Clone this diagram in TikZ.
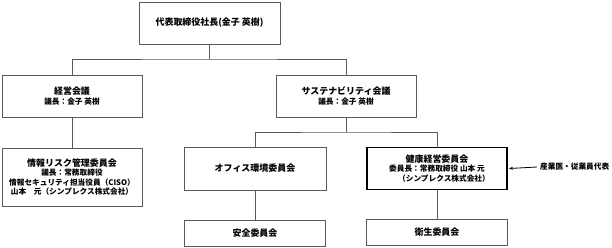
\documentclass[tikz,border=0pt]{standalone}
\usepackage{fontspec}
\setmainfont{Noto Sans CJK JP}
\usepackage{tikz}
\usetikzlibrary{arrows.meta, positioning, calc}
\definecolor{linegray}{HTML}{595959}
\tikzset{
    box/.style={rectangle, draw=linegray, line width=0.8bp, fill=white, inner sep=0pt, outer sep=0pt, align=center, font=\fontsize{7.7}{9.5}\selectfont\bfseries},
    boldbox/.style={box, draw=black, line width=1.6bp},
    link/.style={draw=linegray, line width=0.8bp},
    arrow/.style={-{Stealth[length=4bp, width=3bp]}, line width=0.8bp, draw=black}
}
\newcommand{\ttl}[1]{{\fontsize{9}{10.5}\selectfont #1}}

\begin{document}
\begin{tikzpicture}[x=1bp, y=-1bp, node distance=30bp and 41bp]
        \useasboundingbox (0,0) rectangle (612,247);
        \node[box, minimum width=141bp, minimum height=42bp] (pres) at (209.5,23) {\ttl{代表取締役社長(金子 英樹)}};
        \node[box, minimum width=140bp, minimum height=42bp] (keiei) at (72,96) {\ttl{経営会議}\\議長：金子 英樹};
        \node[box, minimum width=140bp, minimum height=42bp] (sustain) at (346,96) {\ttl{サステナビリティ会議}\\議長：金子 英樹};

        \node[box, below=31bp of keiei, minimum width=140bp, minimum height=58bp] (joho) {\ttl{情報リスク管理委員会}\\議長：常務取締役\\情報セキュリティ担当役員（CISO）\\山本　元（シンプレクス株式会社）};
        \node[box, minimum width=142bp, minimum height=43bp] (office) at (255,168.5) {\ttl{オフィス環境委員会}};
        \node[boldbox, right=41bp of office, minimum width=140bp, minimum height=42bp] (kenko) {\ttl{健康経営委員会}\\委員長：常務取締役 山本 元\\\hspace*{14bp}（シンプレクス株式会社）};
        \node[box, below=of office, minimum width=141bp, minimum height=26bp] (anzen) {\ttl{安全委員会}};
        \node[box, below=of kenko, minimum width=141bp, minimum height=26bp] (eisei) {\ttl{衛生委員会}};

        \node[font=\fontsize{7.7}{9}\selectfont\bfseries, anchor=west, inner sep=3bp] (sangyo) at (537,167) {産業医・従業員代表};

        \draw[link] (pres.south) -- ++(0,15) coordinate (j1);
        \draw[link] (keiei.north) |- (j1) -| (sustain.north);
        \draw[link] (keiei) -- (joho);
        \draw[link] (sustain.south) -- ++(0,15) coordinate (j2);
        \draw[link] (office.north) |- (j2) -| (kenko.north);
        \draw[link] (office) -- (anzen);
        \draw[link] (kenko) -- (eisei);
        \draw[arrow] (sangyo.west) -- ([xshift=2bp]kenko.east);
    \end{tikzpicture}
\end{document}
